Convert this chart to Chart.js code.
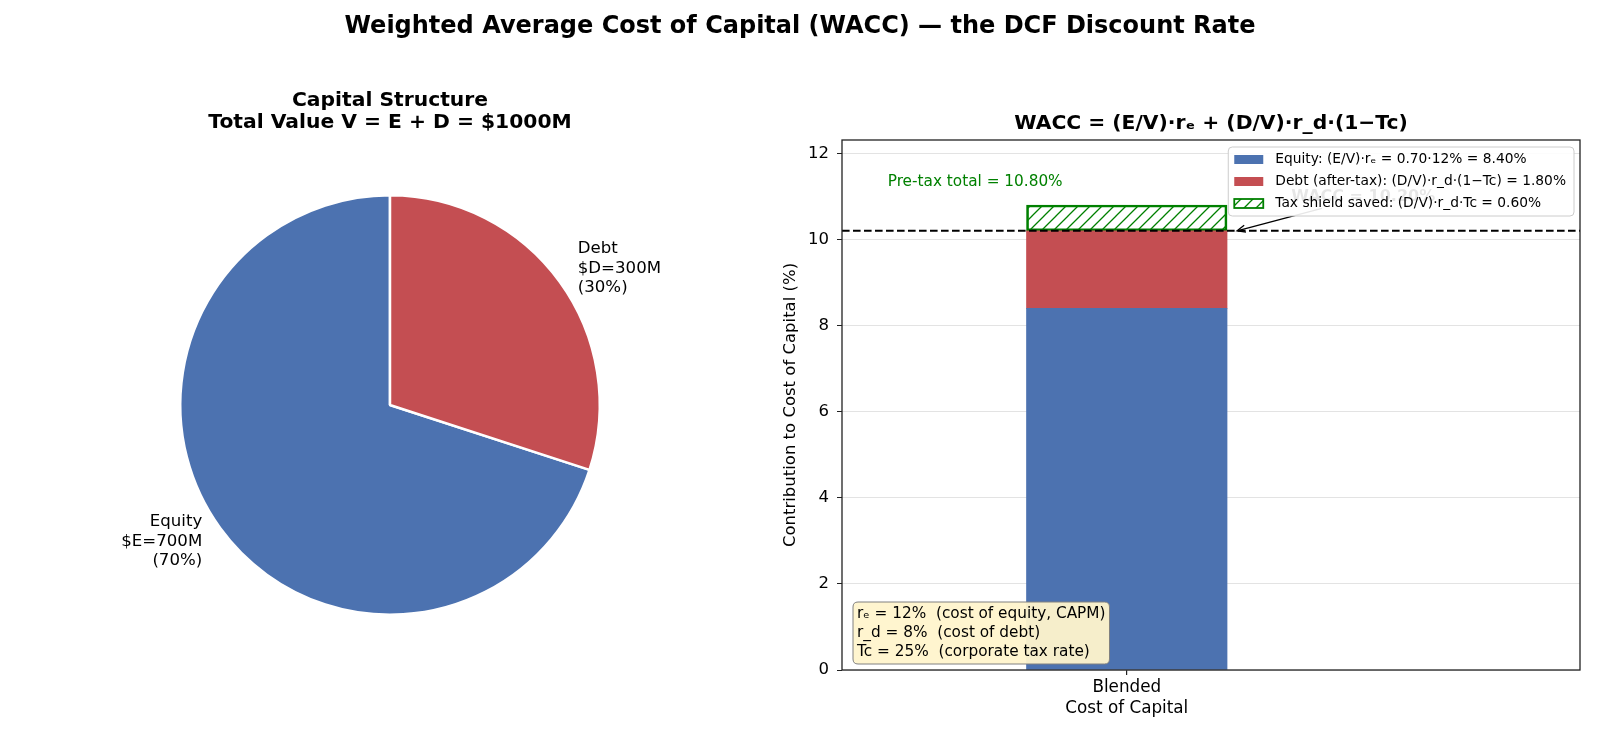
<!DOCTYPE html>
<html><head><meta charset="utf-8">
<script src="https://cdn.jsdelivr.net/npm/chart.js@4.4.1/dist/chart.umd.min.js"></script>
<style>
html,body{margin:0;padding:0;background:#fff;}
#wrap{position:relative;width:1600px;height:738px;overflow:hidden;background:#fff;}
#title{position:absolute;left:0;top:0;width:1600px;text-align:center;font:bold 24px 'DejaVu Sans';line-height:50px;color:#000;white-space:nowrap;}
#c1{position:absolute;left:0;top:0;}
#c2{position:absolute;left:780px;top:0;}
</style></head><body>
<div id="wrap">
<canvas id="c1" width="780" height="738"></canvas>
<canvas id="c2" width="820" height="738"></canvas>
<div id="title">Weighted Average Cost of Capital (WACC) — the DCF Discount Rate</div>
</div>
<script>
// ---------- data ----------
const pieCategories = ['Equity', 'Debt'];
const pieValues = [700, 300];            // $M
const pieColors = ['#4C72B0', '#C44E52'];

const barTickLabel = ['Blended', 'Cost of Capital'];
const seriesLabels = [
  'Equity: (E/V)·rₑ = 0.70·12% = 8.40%',
  'Debt (after-tax): (D/V)·r_d·(1−Tc) = 1.80%',
  'Tax shield saved: (D/V)·r_d·Tc = 0.60%'
];
const seriesValues = [8.40, 1.80, 0.60];  // % contribution
const waccValue = 10.20;
const pretaxValue = 10.80;
const assumptionLines = [
  'rₑ = 12%  (cost of equity, CAPM)',
  'r_d = 8%  (cost of debt)',
  'Tc = 25%  (corporate tax rate)'
];

const FONT = "'DejaVu Sans'";
Chart.defaults.font.family = FONT;
Chart.defaults.color = '#000';

// ---------- pie ----------
const total = pieValues.reduce((a, b) => a + b, 0);
const pieText = {
  id: 'pieText',
  afterDraw(chart) {
    const ctx = chart.ctx;
    const meta = chart.getDatasetMeta(0);
    ctx.save();
    ctx.fillStyle = '#000';
    ctx.textBaseline = 'middle';
    const cx = (chart.chartArea.left + chart.chartArea.right) / 2;
    ctx.textAlign = 'center';
    ctx.font = 'bold 20.3px ' + FONT;
    ctx.fillText('Capital Structure', cx, 100.5);
    ctx.fillText('Total Value V = E + D = $' + total + 'M', cx, 123);
    ctx.font = '16.6px ' + FONT;
    meta.data.forEach((arc, i) => {
      const p = arc.getProps(['x', 'y', 'startAngle', 'endAngle', 'outerRadius'], true);
      const mid = (p.startAngle + p.endAngle) / 2;
      const R = (p.outerRadius + 1.25) * 1.1;
      const x = p.x + R * Math.cos(mid), y = p.y + R * Math.sin(mid);
      const name = pieCategories[i];
      const lines = [name, '$' + name[0] + '=' + pieValues[i] + 'M', '(' + Math.round(pieValues[i] / total * 100) + '%)'];
      ctx.textAlign = Math.cos(mid) >= 0 ? 'left' : 'right';
      const lh = 19.5;
      lines.forEach((l, k) => ctx.fillText(l, x, y + (k - 1) * lh));
    });
    ctx.restore();
  }
};
new Chart(document.getElementById('c1'), {
  type: 'pie',
  data: { labels: pieCategories, datasets: [{ data: pieValues, backgroundColor: pieColors, borderColor: '#fff', borderWidth: 2.5 }] },
  options: {
    responsive: false, animation: false,
    rotation: 360 * (total - pieValues[0]) / total,
    layout: { padding: { left: 179, right: 179, top: 194, bottom: 122 } },
    plugins: { legend: { display: false }, tooltip: { enabled: false } }
  },
  plugins: [pieText]
});

// ---------- bar ----------
function hatchPattern(color, s) {
  const c = document.createElement('canvas');
  c.width = s; c.height = s;
  const g = c.getContext('2d');
  g.strokeStyle = color; g.lineWidth = 1.3;
  g.beginPath();
  g.moveTo(-1, s + 1); g.lineTo(s + 1, -1);
  g.moveTo(-2, 2); g.lineTo(2, -2);
  g.moveTo(s - 2, s + 2); g.lineTo(s + 2, s - 2);
  g.stroke();
  return g.createPattern(c, 'repeat');
}
const hatch = hatchPattern('#008000', 12);
const barFill = ['#4C72B0', '#C44E52', hatch];
const barEdge = ['#4C72B0', '#C44E52', '#008000'];
const barEdgeW = [0, 0, 2];
const BAR_WIDTH = 0.5;

function roundRect(ctx, x, y, w, h, r) {
  ctx.beginPath();
  ctx.moveTo(x + r, y);
  ctx.lineTo(x + w - r, y); ctx.quadraticCurveTo(x + w, y, x + w, y + r);
  ctx.lineTo(x + w, y + h - r); ctx.quadraticCurveTo(x + w, y + h, x + w - r, y + h);
  ctx.lineTo(x + r, y + h); ctx.quadraticCurveTo(x, y + h, x, y + h - r);
  ctx.lineTo(x, y + r); ctx.quadraticCurveTo(x, y, x + r, y);
  ctx.closePath();
}

const overlay = {
  id: 'overlay',
  afterDatasetsDraw(chart) {
    const ctx = chart.ctx, a = chart.chartArea;
    const xs = chart.scales.x, ys = chart.scales.y;
    ctx.save();
    // dashed WACC line
    const yw = ys.getPixelForValue(waccValue);
    ctx.strokeStyle = '#000'; ctx.lineWidth = 2; ctx.setLineDash([7.6, 3.4]);
    ctx.beginPath(); ctx.moveTo(a.left, yw); ctx.lineTo(a.right, yw); ctx.stroke();
    ctx.setLineDash([]);
    // pre-tax text
    ctx.fillStyle = '#008000'; ctx.font = '15.3px ' + FONT;
    ctx.textAlign = 'center'; ctx.textBaseline = 'middle';
    ctx.fillText('Pre-tax total = ' + pretaxValue.toFixed(2) + '%', xs.getPixelForValue(-0.378), ys.getPixelForValue(11.33));
    // WACC annotation (sits behind legend)
    const tx = xs.getPixelForValue(0.41), ty = ys.getPixelForValue(10.98);
    ctx.font = 'bold 16px ' + FONT; ctx.textAlign = 'left'; ctx.fillStyle = '#000';
    const label = 'WACC = ' + waccValue.toFixed(2) + '%';
    ctx.fillText(label, tx, ty);
    const tw = ctx.measureText(label).width;
    const hx = xs.getPixelForValue(0.275), hy = yw;
    const cx = tx + tw / 2, cy = ty;
    const dx = hx - cx, dy = hy - cy;
    const t = Math.min((tw / 2 + 2) / Math.abs(dx), 11 / Math.abs(dy));
    const sx = cx + dx * t, sy = cy + dy * t;
    ctx.strokeStyle = '#000'; ctx.lineWidth = 1.3;
    ctx.beginPath(); ctx.moveTo(sx, sy); ctx.lineTo(hx, hy); ctx.stroke();
    const ang = Math.atan2(hy - sy, hx - sx);
    ctx.beginPath();
    ctx.moveTo(hx - 9 * Math.cos(ang - 0.4), hy - 9 * Math.sin(ang - 0.4));
    ctx.lineTo(hx, hy);
    ctx.lineTo(hx - 9 * Math.cos(ang + 0.4), hy - 9 * Math.sin(ang + 0.4));
    ctx.stroke();

    // legend
    ctx.font = '13.8px ' + FONT;
    const tws = seriesLabels.map(s => ctx.measureText(s).width);
    const lw = 6 + 29 + 12 + Math.max(...tws) + 8;
    const lh = 69;
    const lx = a.right - 6 - lw, ly = a.top + 7;
    roundRect(ctx, lx, ly, lw, lh, 4);
    ctx.fillStyle = 'rgba(255,255,255,0.9)'; ctx.fill();
    ctx.strokeStyle = '#cccccc'; ctx.lineWidth = 1; ctx.stroke();
    seriesLabels.forEach((s, i) => {
      const ry = ly + 12.5 + i * 22;
      const sx0 = lx + 6;
      ctx.fillStyle = barFill[i];
      ctx.fillRect(sx0, ry - 4.5, 29, 9);
      if (barEdgeW[i]) { ctx.strokeStyle = barEdge[i]; ctx.lineWidth = 1.8; ctx.strokeRect(sx0, ry - 4.5, 29, 9); }
      ctx.fillStyle = '#000'; ctx.textAlign = 'left'; ctx.textBaseline = 'middle';
      ctx.fillText(s, sx0 + 29 + 12, ry);
    });

    // assumptions box
    ctx.font = '15.3px ' + FONT;
    const bw = Math.max(...assumptionLines.map(s => ctx.measureText(s).width)) + 8;
    const blh = 19, bh = assumptionLines.length * blh + 5;
    const bx = a.left + 11, by = a.bottom - 6 - bh;
    roundRect(ctx, bx, by, bw, bh, 5);
    ctx.fillStyle = 'rgba(255,244,204,0.95)'; ctx.fill();
    ctx.strokeStyle = '#808080'; ctx.lineWidth = 1; ctx.stroke();
    ctx.fillStyle = '#000';
    assumptionLines.forEach((s, i) => ctx.fillText(s, bx + 4, by + 2.5 + blh / 2 + i * blh));

    // frame
    ctx.strokeStyle = '#222'; ctx.lineWidth = 1.3;
    ctx.strokeRect(a.left, a.top, a.right - a.left, a.bottom - a.top);

    // subplot title
    ctx.font = 'bold 20.3px ' + FONT; ctx.textAlign = 'center'; ctx.fillStyle = '#000';
    ctx.fillText('WACC = (E/V)·rₑ + (D/V)·r_d·(1−Tc)', (a.left + a.right) / 2, 123.5);
    ctx.restore();
  }
};

const barChart = new Chart(document.getElementById('c2'), {
  type: 'bar',
  data: {
    datasets: seriesLabels.map((lab, i) => ({
      label: lab,
      data: [{ x: 0, y: seriesValues[i] }],
      backgroundColor: barFill[i],
      borderColor: barEdge[i],
      borderWidth: barEdgeW[i],
      borderSkipped: false,
      barThickness: 200
    }))
  },
  options: {
    responsive: false, animation: false,
    layout: { padding: { left: 0, right: 20, top: 140, bottom: 0 } },
    plugins: { legend: { display: false }, tooltip: { enabled: false } },
    scales: {
      x: {
        type: 'linear', min: -0.71, max: 1.13, stacked: true, offset: false,
        afterBuildTicks: s => { s.ticks = [{ value: 0 }]; },
        afterFit: s => { s.height = 68; },
        ticks: { callback: () => barTickLabel, font: { size: 16.8 }, color: '#000', padding: 3, maxRotation: 0, autoSkip: false },
        grid: { offset: false, drawOnChartArea: false, drawTicks: true, tickLength: 5, tickColor: '#222', lineWidth: 1.2 },
        border: { display: false }
      },
      y: {
        min: 0, max: 12.31, stacked: true,
        afterFit: s => { s.width = 62; },
        ticks: { stepSize: 2, includeBounds: false, font: { size: 16.5 }, color: '#000', padding: 8 },
        grid: { color: 'rgba(176,176,176,0.35)', lineWidth: 1, drawTicks: true, tickLength: 5, tickColor: '#222' },
        border: { display: false },
        title: { display: true, text: 'Contribution to Cost of Capital (%)', font: { size: 16.5 }, color: '#000', padding: { top: 1, bottom: 0 } }
      }
    }
  },
  plugins: [overlay]
});
// bar thickness from the x scale (BAR_WIDTH in data units)
const xsc = barChart.scales.x;
const px = xsc.getPixelForValue(BAR_WIDTH / 2) - xsc.getPixelForValue(-BAR_WIDTH / 2);
barChart.data.datasets.forEach(d => { d.barThickness = px; });
barChart.update('none');
</script>
</body></html>
